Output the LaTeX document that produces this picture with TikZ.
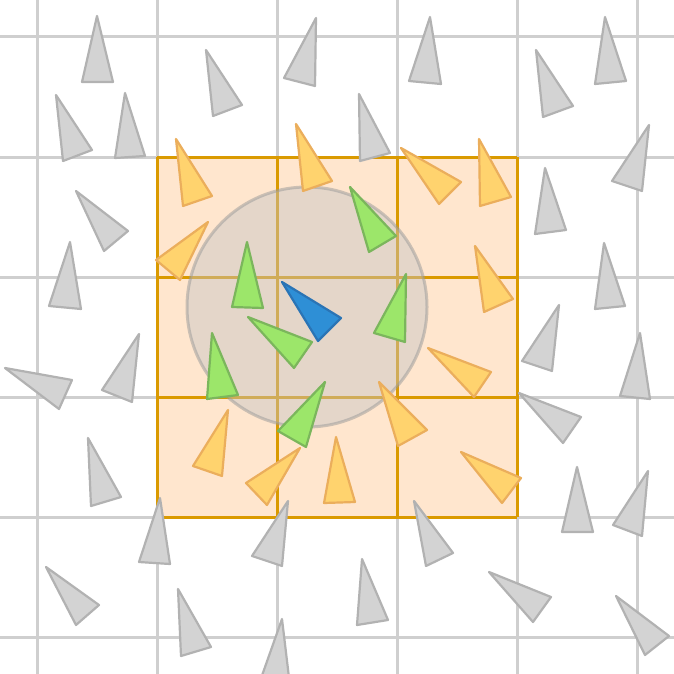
\documentclass[tikz,border=0pt]{standalone}
\usetikzlibrary{backgrounds}
\definecolor{gridgray}{HTML}{CFCFCF}
\definecolor{blockfill}{HTML}{FFE6CE}
\definecolor{blockline}{HTML}{DA9A00}
\definecolor{boidgray}{HTML}{D3D3D3}
\definecolor{boidgrayline}{HTML}{B2B2B2}
\definecolor{boidorange}{HTML}{FFD36E}
\definecolor{boidorangeline}{HTML}{EBAE5C}
\definecolor{boidgreen}{HTML}{9CE66A}
\definecolor{boidgreenline}{HTML}{7BB65C}
\definecolor{boidblue}{HTML}{2E8FD6}
\definecolor{boidblueline}{HTML}{2A74B5}
\definecolor{circfill}{HTML}{C4C4C4}
\tikzset{
  gridline/.style={draw=gridgray, line width=3pt},
  blockgrid/.style={draw=blockline, line width=3pt},
  boidbase/.style={line width=2.2pt, line join=round},
  gb/.style={boidbase, fill=boidgray, draw=boidgrayline},
  ob/.style={boidbase, fill=boidorange, draw=boidorangeline},
  gr/.style={boidbase, fill=boidgreen, draw=boidgreenline},
  bl/.style={boidbase, fill=boidblue, draw=boidblueline},
  rangecircle/.style={fill=circfill, fill opacity=0.45, draw=gray!80, draw opacity=0.5, line width=3pt}
}
\newcommand{\boid}[4]{\draw[#1] (#2) -- (#3) -- (#4) -- cycle;}
\begin{document}
\begin{tikzpicture}[x=1pt,y=-1pt]
\useasboundingbox (0,0) rectangle (674,674);
\clip (0,0) rectangle (674,674);
\fill[white] (0,0) rectangle (674,674);
% grid
\foreach \v in {37,157,277,397,517,637} {
  \draw[gridline] (\v,0) -- (\v,674);
  \draw[gridline] (0,\v) -- (674,\v);
}
% neighbourhood block
\fill[blockfill] (157,157) rectangle (517,517);
\foreach \v in {157,277,397,517} {
  \draw[blockgrid] (\v,157) -- (\v,517);
  \draw[blockgrid] (157,\v) -- (517,\v);
}
% range circle
\draw[rangecircle] (307,307) circle (120);
% gray boids
\boid{gb}{97,16}{82,82}{113,82}
\boid{gb}{56,95}{63,161}{92,150}
\boid{gb}{125,93}{115,158}{145,156}
\boid{gb}{76,191}{104,251}{128,231}
\boid{gb}{206,50}{213,116}{242,105}
\boid{gb}{316,18}{284,78}{315,86}
\boid{gb}{430,17}{409,81}{441,84}
\boid{gb}{359,94}{360,161}{390,153}
\boid{gb}{605,17}{595,84}{626,81}
\boid{gb}{536,50}{543,117}{573,106}
\boid{gb}{649,125}{612,181}{642,191}
\boid{gb}{545,168}{535,234}{566,230}
\boid{gb}{70,242}{49,306}{81,309}
\boid{gb}{5,368}{72,380}{59,409}
\boid{gb}{139,334}{102,390}{132,402}
\boid{gb}{604,243}{595,309}{625,306}
\boid{gb}{559,305}{522,361}{552,371}
\boid{gb}{640,333}{620,396}{650,399}
\boid{gb}{519,393}{581,417}{563,443}
\boid{gb}{88,438}{91,506}{121,497}
\boid{gb}{160,498}{139,562}{170,564}
\boid{gb}{46,567}{99,605}{76,625}
\boid{gb}{178,589}{181,656}{211,647}
\boid{gb}{288,501}{252,556}{282,566}
\boid{gb}{362,559}{357,625}{388,620}
\boid{gb}{282,619}{259,684}{290,686}
\boid{gb}{414,501}{426,566}{453,553}
\boid{gb}{577,467}{562,532}{593,532}
\boid{gb}{648,471}{613,525}{642,536}
\boid{gb}{489,572}{551,597}{533,622}
\boid{gb}{616,596}{669,636}{645,655}
% orange boids
\boid{ob}{176,139}{183,206}{212,196}
\boid{ob}{296,124}{303,191}{332,181}
\boid{ob}{401,148}{439,204}{461,182}
\boid{ob}{479,139}{480,206}{511,197}
\boid{ob}{208,222}{156,260}{180,280}
\boid{ob}{475,246}{484,312}{513,299}
\boid{ob}{428,348}{491,372}{474,397}
\boid{ob}{379,382}{427,430}{398,446}
\boid{ob}{228,410}{193,466}{222,476}
\boid{ob}{300,448}{246,483}{267,505}
\boid{ob}{336,437}{324,503}{355,502}
\boid{ob}{461,452}{521,478}{502,503}
% green boids
\boid{gr}{350,187}{369,252}{396,236}
\boid{gr}{212,333}{207,399}{238,395}
\boid{gr}{247,242}{232,307}{263,308}
\boid{gr}{248,317}{312,342}{294,368}
\boid{gr}{406,274}{374,333}{405,342}
\boid{gr}{325,382}{278,431}{306,447}
% blue boid
\boid{bl}{282,282}{341,318}{318,341}
\end{tikzpicture}
\end{document}
